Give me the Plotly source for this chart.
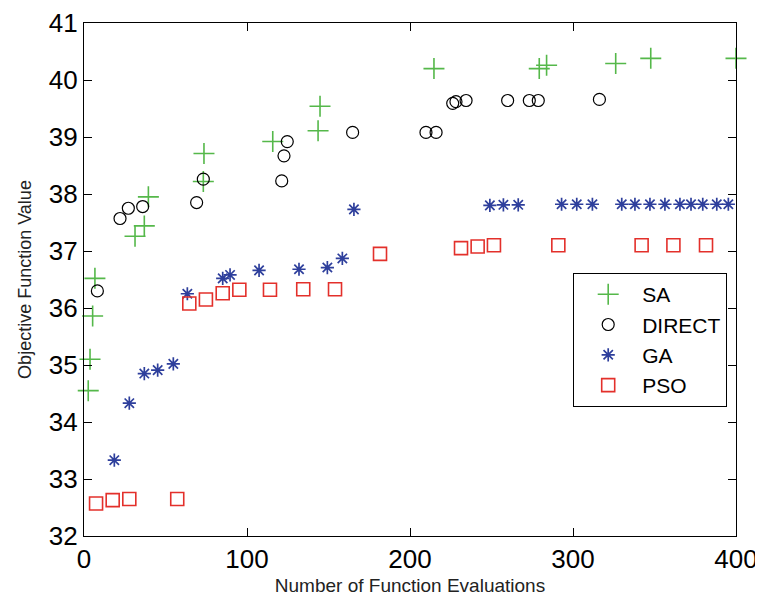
import plotly.graph_objects as go

# ---- data ----
sa_x = [2.6, 3.7, 5.3, 6.7, 31.3, 37, 39.5, 73.2, 73.6, 115.8, 143.6, 144.8,
        214.7, 279.3, 283.8, 326.2, 347.7, 400]
sa_y = [34.55, 35.1, 35.86, 36.52, 37.26, 37.44, 37.95, 38.22, 38.71, 38.92, 39.11, 39.54,
        40.2, 40.2, 40.26, 40.29, 40.38, 40.38]

direct_x = [8.2, 22.1, 27.2, 36, 69.1, 73.2, 121.3, 122.7, 124.7, 164.8, 209.8, 216,
            226.2, 228.2, 234.4, 259.9, 273.2, 278.7, 316.2]
direct_y = [36.3, 37.57, 37.75, 37.78, 37.85, 38.26, 38.23, 38.67, 38.92, 39.08, 39.08, 39.08,
            39.59, 39.62, 39.64, 39.64, 39.64, 39.64, 39.66]

ga_x = [18.6, 27.8, 37, 45.2, 54.8, 63.4, 85.1, 89.6, 107.4, 131.9, 149.3, 158.5, 165.6,
        249, 257.3, 266.4, 293, 302.3, 311.9, 329.9, 338, 347.2, 356.4, 365.6, 372.4,
        379.6, 388.2, 395.3]
ga_y = [33.33, 34.33, 34.85, 34.91, 35.02, 36.25, 36.52, 36.58, 36.66, 36.68, 36.71, 36.87, 37.73,
        37.8, 37.81, 37.81, 37.82, 37.82, 37.82, 37.82, 37.82, 37.82, 37.82, 37.82, 37.82,
        37.82, 37.82, 37.82]

pso_x = [7.4, 17.6, 27.8, 57.2, 64.6, 74.8, 85.1, 95.3, 114.1, 134.5, 154, 181.6,
         231.3, 241.5, 251.5, 291, 342.1, 361.6, 381.6]
pso_y = [32.57, 32.63, 32.65, 32.65, 36.08, 36.15, 36.26, 36.32, 36.32, 36.33, 36.33, 36.95,
         37.05, 37.08, 37.1, 37.1, 37.1, 37.1, 37.1]

x_ticks = [0, 100, 200, 300, 400]
y_ticks = [32, 33, 34, 35, 36, 37, 38, 39, 40, 41]

FONT = "Liberation Sans, Arial, sans-serif"
GREEN = "#55b84a"
BLUE = "#2e3f9c"
RED = "#e3302b"

fig = go.Figure()
fig.add_trace(go.Scatter(x=sa_x, y=sa_y, mode="markers", name="SA", cliponaxis=False,
                         marker=dict(symbol="cross-thin-open", size=15, color=GREEN,
                                     line=dict(color=GREEN, width=1.6))))
fig.add_trace(go.Scatter(x=direct_x, y=direct_y, mode="markers", name="DIRECT", cliponaxis=False,
                         marker=dict(symbol="circle-open", size=12, color="black",
                                     line=dict(color="black", width=1.2))))
fig.add_trace(go.Scatter(x=ga_x, y=ga_y, mode="markers", name="GA", cliponaxis=False,
                         marker=dict(symbol="asterisk-open", size=11, color=BLUE,
                                     line=dict(color=BLUE, width=1.7))))
fig.add_trace(go.Scatter(x=pso_x, y=pso_y, mode="markers", name="PSO", cliponaxis=False,
                         marker=dict(symbol="square-open", size=13, color=RED,
                                     line=dict(color=RED, width=1.6))))

axis_common = dict(showline=True, linecolor="black", linewidth=1.2, mirror="ticks",
                   ticks="inside", ticklen=8, tickcolor="black", showgrid=False,
                   zeroline=False, automargin=False,
                   tickfont=dict(family=FONT, size=26, color="black"))

fig.update_xaxes(range=[0, 400], tickvals=x_ticks, ticktext=[str(v) for v in x_ticks],
                 title=dict(text="Number of Function Evaluations",
                            font=dict(family=FONT, size=19, color="#222"), standoff=5),
                 **axis_common)
fig.update_yaxes(range=[32, 41], tickvals=y_ticks, ticktext=[str(v) for v in y_ticks],
                 title=dict(text="Objective Function Value",
                            font=dict(family=FONT, size=18, color="#222"), standoff=12),
                 **axis_common)

# the page body adds an 8px offset, so the figure is 8px smaller than the window
fig.update_layout(
    width=755, height=589,
    margin=dict(l=76, r=27, t=15, b=61),
    paper_bgcolor="white", plot_bgcolor="white",
    font=dict(family=FONT, color="black"),
    legend=dict(x=0.75, y=0.513, xanchor="left", yanchor="top",
                bordercolor="black", borderwidth=1.2, bgcolor="white",
                font=dict(family=FONT, size=21, color="black"),
                tracegroupgap=0, itemwidth=58),
    showlegend=True,
)

fig.write_html("out.html")
